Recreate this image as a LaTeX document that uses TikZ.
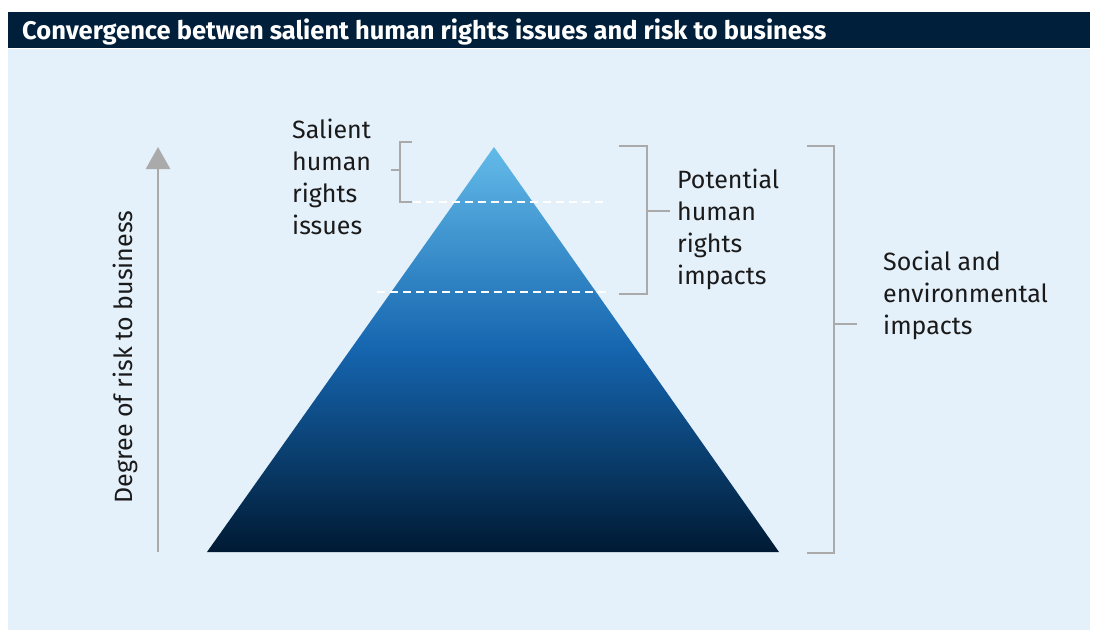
\documentclass[tikz,border=0pt]{standalone}
\usepackage{fontspec}
\setmainfont{Fira Sans}
\definecolor{navy}{RGB}{0, 31, 58}
\definecolor{panelBlue}{RGB}{228, 240, 250}
\definecolor{skyTop}{RGB}{99, 187, 233}
\definecolor{midBlue}{RGB}{21, 101, 175}
\definecolor{deepNavy}{RGB}{0, 26, 51}
\definecolor{bracketGray}{RGB}{170, 170, 170}
\definecolor{inkGray}{RGB}{26, 26, 26}
\usetikzlibrary{positioning, calc, arrows.meta}

\begin{document}
\begin{tikzpicture}[
    x=1pt, y=-1pt,
    label/.style={font=\fontsize{25}{32}\selectfont, align=left, inner sep=0pt, anchor=north west, text=inkGray},
    bracket/.style={draw=bracketGray, line width=2.5pt},
    level/.style={white, line width=2pt, dash pattern=on 8pt off 5pt},
    riskarrow/.style={-{Triangle[width=24pt, length=22pt]}, bracketGray, line width=2.5pt}
  ]
  \useasboundingbox (0,0) rectangle (1093,632);

  % title bar and panel
  \fill[navy] (8,12) rectangle (1090,48);
  \fill[panelBlue] (8,49) rectangle (1090,630);
  \node[anchor=base west, inner sep=0pt, text=white, font=\bfseries\fontsize{25.5}{30}\selectfont] (title) at (22,39)
    {Convergence betwen salient human rights issues and risk to business};

  % pyramid
  \coordinate (apex) at (494,147);
  \coordinate (baseL) at (207,552);
  \coordinate (baseR) at (779,552);
  \shade[top color=skyTop, bottom color=deepNavy, middle color=midBlue] (apex) -- (baseR) -- (baseL) -- cycle;
  \draw[level] (413,202) -- (603,202);
  \draw[level] (377,292) -- (610,292);

  % risk axis
  \coordinate (riskLow) at (158,552);
  \coordinate (riskHigh) at (158,147);
  \draw[riskarrow] (riskLow) -- (riskHigh);
  \node[rotate=90, inner sep=0pt, font=\fontsize{25}{32}\selectfont, text=inkGray] (risk) at (125,357) {Degree of risk to business};

  % brackets
  \draw[bracket] (412,142) -- (400,142) -- (400,202) -- (412,202);
  \draw[bracket] (400,170) -- (391,170);
  \draw[bracket] (619,146) -- (647,146) -- (647,294) -- (619,294);
  \draw[bracket] (647,211) -- (670,211);
  \draw[bracket] (807,146) -- (834,146) -- (834,553) -- (807,553);
  \draw[bracket] (834,324) -- (857,324);

  % labels
  \node[label] (salient) at (292,119) {Salient\\human\\rights\\issues};
  \node[label] (potential) at (677,169) {Potential\\human\\rights\\impacts};
  \node[label] (social) at (883,251) {Social and\\environmental\\impacts};
\end{tikzpicture}
\end{document}
